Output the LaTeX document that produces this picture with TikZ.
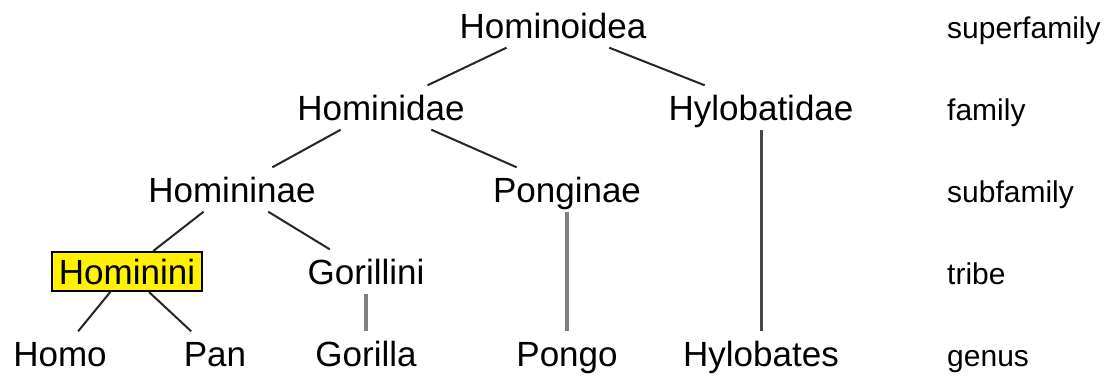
\documentclass[tikz,border=0pt]{standalone}
\usepackage{fontspec}
\setmainfont{Liberation Sans}
\begin{document}
\begin{tikzpicture}[x=1pt,y=-1pt,
  taxon/.style={font=\fontsize{35}{40}\selectfont, text height=25pt, text depth=0pt,
    minimum height=44pt, inner sep=0pt, inner xsep=2pt},
  hilite/.style={taxon, draw=black, line width=2pt, fill=yellow, minimum height=39pt, minimum width=150pt},
  rank/.style={font=\fontsize{30}{34}\selectfont, anchor=base west, inner sep=0pt},
  link/.style={draw=black!85, line width=2pt},
  gbar/.style={draw=black!50, line width=4pt},
  dbar/.style={draw=black!72, line width=3pt}]
\useasboundingbox[fill=white] (0,0) rectangle (1107,375);
% taxa
\node[taxon] (hominoidea) at (553,25.5) {Hominoidea};
\node[taxon] (hominidae) at (381,107.5) {Hominidae};
\node[taxon] (hylobatidae) at (761,107.5) {Hylobatidae};
\node[taxon] (homininae) at (232,189.5) {Homininae};
\node[taxon] (ponginae) at (567,189.5) {Ponginae};
\node[hilite] (hominini) at (127,271.5) {Hominini};
\node[taxon] (gorillini) at (366,271.5) {Gorillini};
\node[taxon] (homo) at (60,353.5) {Homo};
\node[taxon] (pan) at (215,353.5) {Pan};
\node[taxon] (gorilla) at (366,353.5) {Gorilla};
\node[taxon] (pongo) at (567,353.5) {Pongo};
\node[taxon] (hylobates) at (761,353.5) {Hylobates};
% ranks
\node[rank] (r1) at (947,38) {superfamily};
\node[rank] (r2) at (947,120) {family};
\node[rank] (r3) at (947,202) {subfamily};
\node[rank] (r4) at (947,284) {tribe};
\node[rank] (r5) at (947,366) {genus};
% connectors
\draw[link] (hominoidea) -- (hominidae);
\draw[link] (hominoidea) -- (hylobatidae);
\draw[link] (hominidae) -- (homininae);
\draw[link] (hominidae) -- (ponginae);
\draw[link] (homininae) -- (hominini);
\draw[link] (homininae) -- (gorillini);
\draw[link] (hominini) -- (homo);
\draw[link] (hominini) -- (pan);
\draw[gbar] (gorillini) -- (gorilla);
\draw[gbar] (ponginae) -- (pongo);
\draw[dbar] (hylobatidae) -- (hylobates);
\end{tikzpicture}
\end{document}
